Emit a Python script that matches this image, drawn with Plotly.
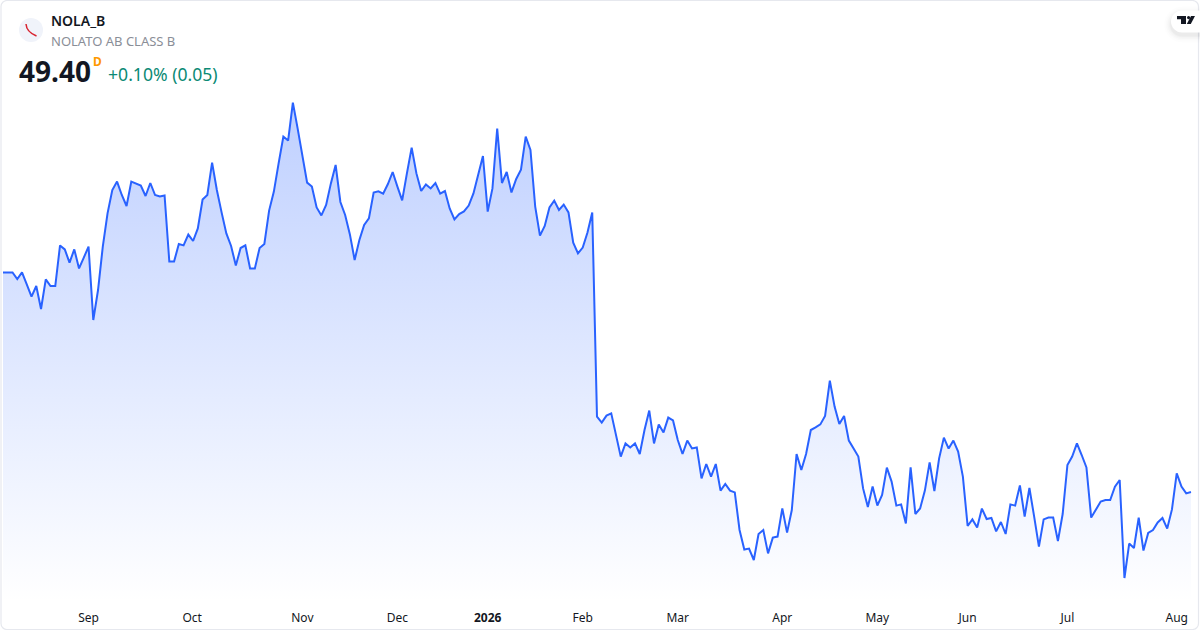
import plotly.graph_objects as go

# Closing prices per trading session (price scale estimated)
closes = [
 60.38,60.38,60.38,60.05,60.38,59.78,59.17,59.70,58.55,60.03,59.70,59.70,61.73,61.53,60.87,61.53,60.58,61.12,61.67,58.00,
 59.50,61.67,63.33,64.50,64.92,64.25,63.70,64.92,64.80,64.72,64.20,64.85,64.25,64.18,64.23,60.92,60.92,61.80,61.73,62.27,
 61.95,62.58,64.02,64.25,65.87,64.50,63.38,62.33,61.70,60.72,61.60,61.73,60.58,60.58,61.60,61.80,63.47,64.42,65.83,67.17,
 66.97,68.87,67.58,66.25,64.87,64.67,63.63,63.23,63.75,64.83,65.75,63.90,63.25,62.28,61.00,62.00,62.75,63.08,64.37,64.43,
 64.32,64.80,65.40,64.67,63.98,65.33,66.62,65.33,64.45,64.78,64.58,64.85,64.32,64.45,63.58,63.03,63.30,63.43,63.72,64.33,
 65.33,66.20,63.42,64.58,67.57,64.85,65.40,64.38,65.05,65.52,67.17,66.50,63.67,62.22,62.70,63.63,63.97,63.50,63.77,63.38,
 61.87,61.33,61.62,62.37,63.37,53.17,52.87,53.22,53.33,52.25,51.17,51.83,51.63,51.83,51.30,52.50,53.47,51.83,52.78,52.38,
 53.12,52.98,52.00,51.30,51.97,51.58,51.63,50.08,50.80,50.17,50.80,49.47,49.80,49.47,49.38,47.50,46.52,46.57,46.00,47.30,
 47.50,46.33,47.12,47.17,48.58,47.37,48.50,51.30,50.50,51.30,52.50,52.63,52.78,53.20,54.97,53.67,52.80,53.20,51.97,51.57,
 51.17,49.58,48.65,49.67,48.72,49.25,50.62,49.92,48.72,48.78,47.83,50.63,48.30,48.58,49.47,50.88,49.45,51.08,52.12,51.57,
 51.97,51.42,50.17,47.70,48.03,47.63,48.57,48.05,48.10,47.43,47.90,47.30,48.78,48.72,49.73,48.17,49.60,48.17,46.67,48.03,
 48.12,48.12,46.95,48.30,50.75,51.17,51.83,51.25,50.63,48.12,48.53,48.92,49.00,49.00,49.67,50.00,45.10,46.82,46.60,48.12,
 46.47,47.35,47.50,47.88,48.10,47.57,48.53,50.33,49.67,49.33,49.40,
]
sessions = list(range(len(closes)))
tick_sessions = [18, 39.8, 63, 83, 102, 122, 142, 164, 184, 203, 224, 247]
tick_labels = ["Sep", "Oct", "Nov", "Dec", "<b>2026</b>", "Feb", "Mar", "Apr", "May", "Jun", "Jul", "Aug"]
axis_floor = 43.9
axis_ceiling = 74.0

symbol = "NOLA_B"
company = "NOLATO AB CLASS B"
last_price = "49.40"
interval = "D"
change = "+0.10% (0.05)"

W, H, BOTTOM = 1200, 630, 28
PLOT_H = H - BOTTOM


def px(x):
    return x / W


def py(y):
    return (PLOT_H - y) / PLOT_H


def path(points, close=True):
    s = "M" + " L".join(f"{px(x):.5f},{py(y):.5f}" for x, y in points)
    return s + (" Z" if close else "")


def rounded(x0, y0, x1, y1, r):
    # corners drawn with cubic Beziers so they are properly circular
    k = r * 0.45
    return (f"M{px(x0+r):.5f},{py(y0):.5f} L{px(x1-r):.5f},{py(y0):.5f} "
            f"C{px(x1-k):.5f},{py(y0):.5f} {px(x1):.5f},{py(y0+k):.5f} {px(x1):.5f},{py(y0+r):.5f} "
            f"L{px(x1):.5f},{py(y1-r):.5f} "
            f"C{px(x1):.5f},{py(y1-k):.5f} {px(x1-k):.5f},{py(y1):.5f} {px(x1-r):.5f},{py(y1):.5f} "
            f"L{px(x0+r):.5f},{py(y1):.5f} "
            f"C{px(x0+k):.5f},{py(y1):.5f} {px(x0):.5f},{py(y1-k):.5f} {px(x0):.5f},{py(y1-r):.5f} "
            f"L{px(x0):.5f},{py(y0+r):.5f} "
            f"C{px(x0):.5f},{py(y0+k):.5f} {px(x0+k):.5f},{py(y0):.5f} {px(x0+r):.5f},{py(y0):.5f} Z")


def sh(p, fill=None, line=None, width=0):
    return dict(type="path", xref="paper", yref="paper", path=p, fillcolor=fill or "rgba(0,0,0,0)",
                line=dict(color=line or "rgba(0,0,0,0)", width=width), layer="above")


def circle(cx, cy, r, fill):
    return dict(type="circle", xref="paper", yref="paper", x0=px(cx - r), x1=px(cx + r),
                y0=py(cy + r), y1=py(cy - r), fillcolor=fill, line=dict(width=0), layer="above")


def label(x, y, text, size, color, weight=400, family="Noto Sans"):
    return dict(xref="paper", yref="paper", x=px(x), y=py(y), text=text, showarrow=False, xanchor="left",
                yanchor="middle", font=dict(family=family, size=size, color=color, weight=weight))


fig = go.Figure()
fig.add_trace(go.Scatter(x=sessions, y=[axis_floor] * len(sessions), mode="lines",
                         line=dict(width=0, color="rgba(0,0,0,0)"), hoverinfo="skip", showlegend=False))
fig.add_trace(go.Scatter(
    x=sessions, y=closes, mode="lines", fill="tonexty",
    fillgradient=dict(type="vertical",
                      colorscale=[[0, "rgba(41,98,255,0)"], [1, "rgba(41,98,255,0.3)"]]),
    line=dict(color="#2962FF", width=2, shape="linear"), showlegend=False))

shapes = [
    sh(rounded(1, 0.5, 1198.5, 629.5, 6), None, "#E6E8EE", 1.2),
    circle(31, 30, 12, "#F0F3FA"),
    sh(f"M{px(26):.5f},{py(24):.5f} Q{px(26.5):.5f},{py(32):.5f} {px(36.5):.5f},{py(36):.5f}", None, "#D8232F", 1.5),
]
# watermark pill with soft shadow
for grow, alpha in [(7, 0.008), (5, 0.012), (3.5, 0.016), (2, 0.02), (1, 0.025)]:
    shapes.append(sh(rounded(1171 - grow, 10.5 - grow + 3, 1222, 32.5 + grow + 3, 11 + grow), f"rgba(0,0,0,{alpha})"))
shapes += [
    sh(rounded(1171, 10.5, 1222, 32.5, 11), "#FFFFFF"),
    sh(path([(1177, 16), (1186, 16), (1186, 24), (1181, 24), (1181, 19.2), (1177, 19.2)]), "#131722"),
    circle(1188.6, 17.6, 1.6, "#131722"),
    sh(path([(1191, 16), (1195, 16), (1190.8, 24), (1186.8, 24)]), "#131722"),
]

fig.update_layout(
    width=W, height=H, autosize=False,
    margin=dict(l=0, r=0, t=0, b=BOTTOM, autoexpand=False),
    paper_bgcolor="#FFFFFF", plot_bgcolor="#FFFFFF", showlegend=False,
    xaxis=dict(range=[-0.632, 251.9], tickmode="array", tickvals=tick_sessions, ticktext=tick_labels,
               showgrid=False, zeroline=False, showline=False, ticks="", ticklabelstandoff=7,
               tickfont=dict(family="Noto Sans", size=12, color="#131722")),
    yaxis=dict(range=[axis_floor, axis_ceiling], visible=False, fixedrange=True),
    shapes=shapes,
    annotations=[
        label(49, 21, symbol, 14, "#131722", 600),
        label(49, 41, company, 13, "#8A8E97"),
        label(17, 71, last_price, 28, "#131722", 700),
        label(91, 61, interval, 12, "#FF9800", 700),
        label(106, 74, change, 17.6, "#0B8A75"),
    ],
)
fig.write_html("out.html", config={"displayModeBar": False},
               post_script="document.body.style.margin='0';document.documentElement.style.overflow='hidden';")
